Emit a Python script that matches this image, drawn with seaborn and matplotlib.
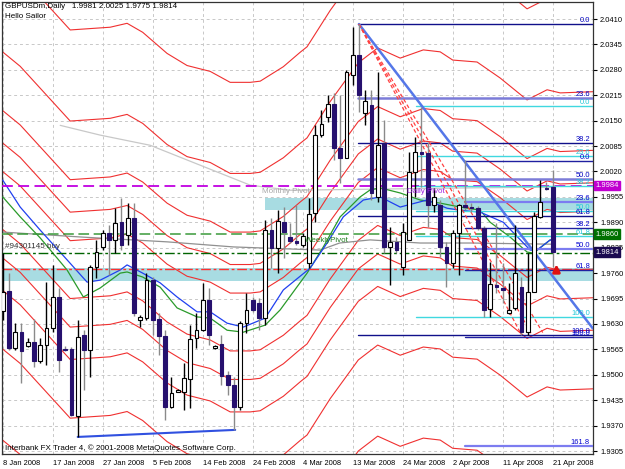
import numpy as np
import pandas as pd
import matplotlib
matplotlib.use("Agg")
import matplotlib.pyplot as plt
import matplotlib.transforms as mtransforms
import seaborn as sns

# ---------------- data ----------------
date_labels = ["8 Jan 2008", "17 Jan 2008", "27 Jan 2008", "5 Feb 2008", "14 Feb 2008",
               "24 Feb 2008", "4 Mar 2008", "13 Mar 2008", "24 Mar 2008", "2 Apr 2008",
               "11 Apr 2008", "21 Apr 2008"]
date_bars = [0, 8, 16, 24, 32, 40, 48, 56, 64, 72, 80, 88]

opens = [1.9663, 1.9715, 1.9569, 1.9610, 1.9574, 1.9585, 1.9534, 1.9576, 1.9620, 1.9699,
         1.9567, 1.9565, 1.9395, 1.9602, 1.9563, 1.9776, 1.9827, 1.9862, 1.9845, 1.9891,
         1.9857, 1.9900, 1.9640, 1.9645, 1.9742, 1.9642, 1.9599, 1.9418, 1.9457, 1.9456,
         1.9489, 1.9594, 1.9614, 1.9691, 1.9568, 1.9578, 1.9499, 1.9474, 1.9417, 1.9632,
         1.9691, 1.9684, 1.9645, 1.9870, 1.9824, 1.9891, 1.9853, 1.9842, 1.9832, 1.9785,
         1.9913, 2.0113, 2.0160, 2.0193, 2.0079, 2.0054, 2.0267, 2.0318, 2.0169, 2.0190,
         1.9955, 2.0092, 1.9827, 1.9840, 1.9776, 1.9845, 2.0019, 2.0070, 2.0066, 1.9934,
         1.9934, 1.9827, 1.9785, 1.9862, 1.9934, 1.9930, 1.9926, 1.9875, 1.9667, 1.9730,
         1.9723, 1.9657, 1.9670, 1.9725, 1.9610, 1.9712, 1.9904, 1.9978, 1.9981]
highs = [1.9811, 1.9761, 1.9632, 1.9632, 1.9594, 1.9643, 1.9594, 1.9738, 1.9781, 1.9722,
         1.9573, 1.9572, 1.9640, 1.9614, 1.9781, 1.9845, 1.9870, 1.9883, 1.9927, 1.9952,
         1.9939, 1.9939, 1.9653, 1.9760, 1.9751, 1.9658, 1.9614, 1.9495, 1.9464, 1.9530,
         1.9627, 1.9658, 1.9735, 1.9722, 1.9576, 1.9602, 1.9510, 1.9494, 1.9637, 1.9709,
         1.9699, 1.9696, 1.9896, 1.9901, 1.9921, 1.9930, 1.9888, 1.9934, 1.9862, 1.9952,
         2.0139, 2.0177, 2.0216, 2.0220, 2.0216, 2.0280, 2.0390, 2.0397, 2.0228, 2.0228,
         2.0275, 2.0152, 1.9879, 1.9852, 1.9888, 2.0070, 2.0109, 2.0186, 2.0096, 1.9978,
         1.9947, 1.9840, 1.9870, 1.9937, 2.0049, 1.9939, 1.9932, 1.9880, 1.9789, 1.9888,
         1.9786, 1.9735, 1.9883, 1.9751, 1.9811, 1.9917, 1.9998, 1.9994, 2.0025]
lows = [1.9640, 1.9563, 1.9563, 1.9479, 1.9571, 1.9521, 1.9530, 1.9525, 1.9610, 1.9508,
        1.9561, 1.9394, 1.9341, 1.9461, 1.9495, 1.9747, 1.9819, 1.9755, 1.9811, 1.9819,
        1.9832, 1.9650, 1.9623, 1.9640, 1.9602, 1.9550, 1.9384, 1.9415, 1.9456, 1.9410,
        1.9415, 1.9568, 1.9612, 1.9576, 1.9566, 1.9474, 1.9448, 1.9359, 1.9410, 1.9607,
        1.9661, 1.9614, 1.9627, 1.9773, 1.9760, 1.9799, 1.9837, 1.9832, 1.9827, 1.9773,
        1.9891, 2.0109, 2.0147, 2.0049, 1.9990, 2.0054, 2.0241, 2.0173, 2.0139, 1.9947,
        1.9943, 1.9811, 1.9730, 1.9811, 1.9755, 1.9845, 1.9955, 1.9981, 1.9879, 1.9917,
        1.9802, 1.9725, 1.9773, 1.9755, 1.9921, 1.9916, 1.9870, 1.9648, 1.9648, 1.9708,
        1.9683, 1.9655, 1.9666, 1.9602, 1.9602, 1.9711, 1.9901, 1.9972, 1.9775]
closes = [1.9712, 1.9568, 1.9609, 1.9561, 1.9584, 1.9534, 1.9576, 1.9620, 1.9699, 1.9538,
          1.9564, 1.9397, 1.9597, 1.9563, 1.9776, 1.9815, 1.9862, 1.9845, 1.9888, 1.9832,
          1.9901, 1.9657, 1.9648, 1.9742, 1.9640, 1.9599, 1.9418, 1.9453, 1.9461, 1.9492,
          1.9592, 1.9614, 1.9691, 1.9602, 1.9573, 1.9497, 1.9474, 1.9417, 1.9632, 1.9666,
          1.9666, 1.9645, 1.9870, 1.9823, 1.9893, 1.9866, 1.9843, 1.9836, 1.9855, 1.9911,
          2.0113, 2.0141, 2.0193, 2.0079, 2.0054, 2.0274, 2.0318, 2.0216, 2.0199, 1.9964,
          2.0088, 1.9827, 1.9840, 1.9819, 1.9866, 2.0019, 2.0070, 2.0064, 1.9934, 1.9955,
          1.9827, 1.9785, 1.9862, 1.9934, 1.9930, 1.9926, 1.9875, 1.9666, 1.9732, 1.9725,
          1.9717, 1.9666, 1.9760, 1.9610, 1.9712, 1.9906, 1.9943, 1.9974, 1.9814]

# moving averages (bar position, price)
blue_ma_x = [0, 2.8, 6, 10.3, 13.5, 15.6, 18.8, 19.9, 22.4, 25.2, 27.9, 31.1, 33.2, 35.9, 38.5,
             42, 44.9, 49.2, 51.9, 54.5, 57.7, 60.4, 63.6, 67.9, 71.1, 73.2, 76.4, 80.1, 84.4, 85.5, 87.6, 88]
blue_ma_y = [1.9998, 1.9929, 1.9870, 1.9794, 1.9737, 1.9742, 1.9768, 1.9781, 1.9760, 1.9735, 1.9699,
             1.9661, 1.9661, 1.9632, 1.9622, 1.9645, 1.9717, 1.9773, 1.9837, 1.9904, 1.9947, 1.9955,
             1.9929, 1.9947, 1.9926, 1.9921, 1.9916, 1.9890, 1.9819, 1.9819, 1.9845, 1.9842]
green_ma_x = [0, 2.8, 6, 10.3, 12.9, 15.6, 18.8, 19.9, 22.4, 25.2, 27.9, 31.1, 33.2, 35.9, 38.5,
              42, 44.4, 48.7, 51.3, 54, 57.2, 58.8, 60.4, 63.6, 66.8, 70, 73.2, 76.4, 78, 81.2, 83.9,
              84.9, 87.6, 88]
green_ma_y = [1.9955, 1.9904, 1.9850, 1.9768, 1.9699, 1.9722, 1.9760, 1.9763, 1.9750, 1.9724, 1.9671,
              1.9648, 1.9645, 1.9614, 1.9609, 1.9627, 1.9666, 1.9760, 1.9827, 1.9904, 1.9955, 1.9973,
              1.9978, 1.9965, 1.9947, 1.9939, 1.9929, 1.9921, 1.9890, 1.9852, 1.9814, 1.9811, 1.9845, 1.9845]
gray_ma_x = [0, 12.9, 26.3, 36.9, 50.8, 53.9, 58.8, 66.8, 74.8, 88]
gray_ma_y = [1.9865, 1.9852, 1.9840, 1.9827, 1.9819, 1.9837, 1.9845, 1.9837, 1.9837, 1.9834]
lgray_ma_x = [9.2, 15.6, 23.6, 31.6, 39.6, 46, 60.4, 74.8, 88]
lgray_ma_y = [2.0138, 2.0113, 2.0087, 2.0036, 1.9985, 1.9972, 1.9975, 1.9978, 1.9980]

# envelope centre (not drawn) and the band offsets
env_x = [-0.1, 2.8, 6.4, 10.8, 17.2, 19.9, 22.4, 26.3, 29.5, 33.2, 36.4, 39.6, 41.2, 44.9,
         47.6, 48.7, 52.4, 56.9, 60.0, 63.6, 67.3, 70.0, 72.0, 75.9, 79.6, 83.9, 87.1, 89.2, 94.4]
env_y = [1.9947, 1.9909, 1.9846, 1.9769, 1.9776, 1.9786, 1.9763, 1.9709, 1.9678, 1.9663, 1.9635,
         1.9635, 1.9638, 1.9675, 1.9712, 1.9726, 1.9819, 1.9918, 1.9956, 1.9930, 1.9951, 1.9946,
         1.9925, 1.9920, 1.9879, 1.9823, 1.9849, 1.9841, 1.9844]
env_offsets = [-0.0613, -0.0380, -0.0230, -0.0147, -0.0074, 0.0074, 0.0147, 0.0230, 0.0380, 0.0613]

# Fibonacci levels (price)
fib1_names = ["0.0", "23.6", "38.2", "50.0", "61.8", "100.0"]
fib1_prices = [2.0397, 2.0209, 2.0093, 2.0000, 1.9906, 1.9602]
fib2_names = ["0.0", "23.6", "38.2", "50.0", "61.8", "100.0"]
fib2_prices = [2.0187, 2.0060, 1.9982, 1.9919, 1.9855, 1.9648]
fib3_names = ["0.0", "23.6", "38.2", "50.0", "61.8", "100.0", "161.8"]
fib3_prices = [2.0046, 1.9942, 1.9875, 1.9822, 1.9768, 1.9597, 1.9318]

yticks = [2.0410, 2.0345, 2.0280, 2.0215, 2.0150, 2.0085, 2.0020, 1.9955, 1.9890, 1.9825,
          1.9760, 1.9695, 1.9630, 1.9565, 1.9500, 1.9435, 1.9370, 1.9305]
ytick_labels = ["2.0410", "2.0345", "2.0280", "2.0215", "2.0150", "2.0085", "2.0020", "1.9955",
                "1.9890", "1.9825", "1.9760", "1.9695", "1.9630", "1.9565", "1.9500", "1.9435",
                "1.9370", "1.9305"]

monthly_pivot = 1.9984
weekly_pivot = 1.9860
order_price = 1.9811
stop_price = 1.9770
bid_price = 1.9814
zone1 = (1.9921, 1.9952)
zone2 = (1.9740, 1.9773)

# ---------------- figure ----------------
sns.set_style("white")
plt.rcParams['font.family'] = ['Liberation Sans', 'DejaVu Sans']
W, H = 625, 469
fig = plt.figure(figsize=(W / 100, H / 100), dpi=100)
fig.patch.set_facecolor("white")
L, R, T, B = 2, 593, 2, 454
ax = fig.add_axes([L / W, 1 - B / H, (R - L) / W, (B - T) / H])
XMIN, XMAX = -0.112, 94.448
YTOP = 2.04535
YBOT = YTOP - (B - T) / 3909.5

def axx(px):
    return (px - L) / (R - L)

def axy(py):
    return (B - py) / (B - T)

FS = 5.4
TFS = 5.8
bt = mtransforms.blended_transform_factory(ax.transAxes, ax.transData)

# zones
ax.axhspan(zone2[0], zone2[1], xmin=0, xmax=1, color="#a8dce2", lw=0, zorder=1)
ax.axhspan(zone1[0], zone1[1], xmin=axx(265), xmax=1, color="#a8dce2", lw=0, zorder=1)

# envelopes
for off in env_offsets:
    sns.lineplot(x=env_x, y=[v + off for v in env_y], ax=ax, color="#f03030",
                 lw=0.8, estimator=None, sort=False, zorder=2)

# moving averages
sns.lineplot(x=lgray_ma_x, y=lgray_ma_y, ax=ax, color="#c8c8c8", lw=0.9, estimator=None, sort=False, zorder=2)
sns.lineplot(x=gray_ma_x, y=gray_ma_y, ax=ax, color="#909090", lw=0.9, estimator=None, sort=False, zorder=2)
sns.lineplot(x=green_ma_x, y=green_ma_y, ax=ax, color="#2a9a2a", lw=0.9, estimator=None, sort=False, zorder=3)
sns.lineplot(x=blue_ma_x, y=blue_ma_y, ax=ax, color="#2040f0", lw=0.9, estimator=None, sort=False, zorder=3)

# horizontal lines
ax.axhline(monthly_pivot, color="#c000e0", lw=1.3, dashes=(6, 3), zorder=3)
ax.axhline(weekly_pivot, color="#3a9a3a", lw=1.1, dashes=(7, 3), zorder=3)
ax.axhline(order_price, color="#006400", lw=1.0, linestyle=(0, (7, 2, 2, 2)), zorder=3)
ax.axhline(stop_price, color="#ff3030", lw=1.0, linestyle=(0, (7, 2, 2, 2)), zorder=3)

# fibonacci sets
x_fib1 = (56.9, XMAX)
x_fib2 = (66.2, XMAX)
x_fib3 = (74.0, XMAX)
for nm, p in zip(fib1_names, fib1_prices):
    thick = nm in ("23.6", "50.0")
    ax.plot(x_fib1, [p, p], color="#7c7cd8" if thick else "#10108a", lw=1.8 if thick else 1.0, zorder=4)
    ax.text(axx(590), p, nm, transform=bt, ha="right", va="bottom", fontsize=FS, color="#0000c0", zorder=6)
for nm, p in zip(fib2_names, fib2_prices):
    ax.plot(x_fib2, [p, p], color="#40d8e0", lw=1.0, zorder=4)
    ax.text(axx(590), p, nm, transform=bt, ha="right", va="bottom", fontsize=FS, color="#20c8d8", zorder=6)
for nm, p in zip(fib3_names, fib3_prices):
    thick = nm in ("23.6", "50.0", "161.8")
    ax.plot(x_fib3, [p, p], color="#7c7cf0" if thick else "#2020a0", lw=1.6 if thick else 1.0, zorder=4)
    ax.text(axx(590), p, nm, transform=bt, ha="right", va="bottom", fontsize=FS, color="#0000d0", zorder=6)

# trend lines
ax.plot([57, 94.4], [2.0397, 1.9619], color="#5577e8", lw=1.8, zorder=5)
ax.plot([12, 37.2], [1.9341, 1.9359], color="#3050e0", lw=1.5, zorder=5)
for xe, pe in [(83.0, 1.9602), (84.6, 1.9604), (86.4, 1.9608)]:
    ax.plot([57, xe], [2.0397, pe], color="#ff4040", lw=0.9, linestyle=(0, (3, 2)), zorder=5)

# candles
xs = np.arange(len(opens))
o = np.array(opens); h = np.array(highs); l = np.array(lows); c = np.array(closes)
up = c >= o
ax.vlines(xs[up], l[up], h[up], color="black", lw=1.0, zorder=6)
ax.vlines(xs[~up], l[~up], h[~up], color="#8a8a8a", lw=1.0, zorder=6)
bh = np.maximum(np.abs(c - o), 0.00012)
ax.bar(xs[up], bh[up], bottom=np.minimum(o, c)[up], width=0.62, color="white",
       edgecolor="black", linewidth=0.8, zorder=7)
ax.bar(xs[~up], bh[~up], bottom=np.minimum(o, c)[~up], width=0.62, color="#26106e",
       edgecolor="#26106e", linewidth=0.8, zorder=7)

# texts
ax.text(axx(5), axy(7), "GBPUSDm,Daily   1.9981 2.0025 1.9775 1.9814", transform=ax.transAxes,
        fontsize=TFS, va="center", ha="left", color="black", zorder=10)
ax.text(axx(5), axy(17), "Hello Sailor", transform=ax.transAxes, fontsize=TFS, va="center",
        ha="left", color="black", zorder=10)
ax.text(axx(5), axy(246), "#94301145 buy", transform=ax.transAxes, fontsize=TFS, va="center",
        ha="left", color="#303030", zorder=10)
ax.text(axx(262), axy(191), "Monthly Pivot", transform=ax.transAxes, fontsize=TFS, va="center",
        ha="left", color="#a8a8a8", zorder=10)
ax.text(axx(407), axy(191), "Daily Pivot", transform=ax.transAxes, fontsize=TFS, va="center",
        ha="left", color="#a020e0", zorder=10)
ax.text(axx(305), axy(241), "WeeklyPivot", transform=ax.transAxes, fontsize=TFS, va="center",
        ha="left", color="#208020", zorder=10)
ax.text(axx(5), axy(448), "Interbank FX Trader 4, \u00a9 2001-2008 MetaQuotes Software Corp.",
        transform=ax.transAxes, fontsize=TFS, va="center", ha="left", color="black", zorder=10)
ax.annotate("", xy=(88.6, 1.9790), xytext=(88.6, 1.9758),
            arrowprops=dict(arrowstyle="-|>", color="#e01010", lw=2.2, mutation_scale=10), zorder=10)

# price boxes on the right
for p, fc, txt in [(monthly_pivot, "#c000d0", "1.9984"), (weekly_pivot, "#007000", "1.9860"),
                   (bid_price, "#1a0a50", "1.9814")]:
    ax.text(1.004, p, txt, transform=bt, fontsize=FS, color="white", va="center", ha="left",
            bbox=dict(boxstyle="square,pad=0.15", fc=fc, ec=fc), zorder=12, clip_on=False)

# axes, ticks, grid (set last so nothing overrides them)
ax.set_xlim(XMIN, XMAX)
ax.set_ylim(YBOT, YTOP)
ax.set_xlabel("")
ax.set_ylabel("")
ax.set_yticks(yticks)
ax.set_yticklabels(ytick_labels)
ax.set_xticks(date_bars)
ax.set_xticklabels(date_labels)
ax.yaxis.tick_right()
ax.tick_params(axis="y", labelsize=FS, length=3, width=0.8, pad=2, colors="black")
ax.tick_params(axis="x", labelsize=FS, length=3, width=0.8, pad=1, colors="black")
for lab in ax.get_xticklabels():
    lab.set_horizontalalignment("left")
ax.grid(True, color="#c8c8c8", linestyle=(0, (3, 3)), linewidth=0.7)
ax.set_axisbelow(True)
for sp in ax.spines.values():
    sp.set_color("#333333")
    sp.set_linewidth(0.9)

fig.savefig("out.png", dpi=100)
